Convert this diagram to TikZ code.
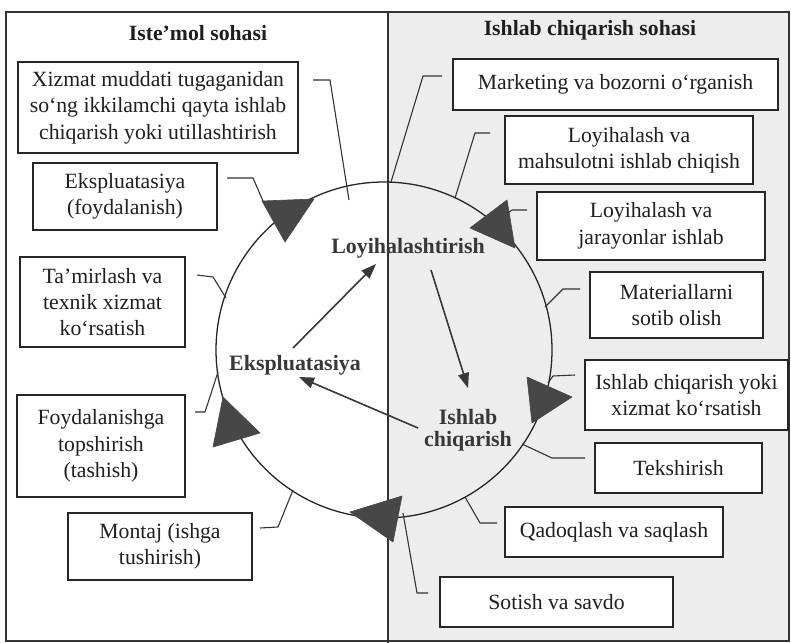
\documentclass[tikz,border=0pt]{standalone}
\usepackage{fontspec}
\setmainfont{Liberation Serif}
\usetikzlibrary{arrows.meta}
\begin{document}
\begin{tikzpicture}[x=1bp,y=-1bp,
  box/.style={draw=black!85, line width=1.4pt, fill=white, align=center, inner sep=1pt,
    font=\fontsize{21.8}{26.5}\selectfont, text=black!88},
  lead/.style={draw=black!80, line width=1.1pt},
  tri/.style={fill=black!72, draw=black!72, line width=0.6pt, line join=round},
  lbl/.style={font=\bfseries\fontsize{22}{24}\selectfont, text=black!78, align=center, inner sep=1pt},
  ttl/.style={font=\bfseries\fontsize{21.8}{24}\selectfont, text=black!88},
  flow/.style={line width=1.6pt, draw=black!78, -{Triangle[length=15bp,width=11bp]}}
]
\useasboundingbox (0,0) rectangle (791,643);
\fill[white] (0,0) rectangle (791,643);
\fill[black!7] (388,12) rectangle (789,641);
% frame and divider
\draw[line width=1.2pt, black!80] (6,12) rectangle (789,641);
\draw[line width=1.2pt, black!80] (388,12) -- (388,643);

% titles
\node[ttl] (t1) at (198,33) {Iste’mol sohasi};
\node[ttl] (t2) at (590,30) {Ishlab chiqarish sohasi};

% circle
\draw[line width=1.3pt, black!85] (384,350) circle[radius=168];

% triangles
\filldraw[tri] (262,201) -- (314,199) -- (285,242) -- cycle;
\filldraw[tri] (507,200) -- (470,228) -- (515,248) -- cycle;
\filldraw[tri] (527,377) -- (572,397) -- (532,423) -- cycle;
\filldraw[tri] (350,512) -- (402,496) -- (393,542) -- cycle;
\filldraw[tri] (223,397) -- (260,433) -- (213,447) -- cycle;

% boxes left
\node[box, minimum width=280bp, minimum height=91bp] (b1) at (158,107.5)
  {Xizmat muddati tugaganidan\\so‘ng ikkilamchi qayta ishlab\\chiqarish yoki utillashtirish};
\node[box, minimum width=184bp, minimum height=67bp] (b2) at (125,196.5)
  {Ekspluatasiya\\(foydalanish)};
\node[box, minimum width=165bp, minimum height=90bp] (b3) at (102.5,302)
  {Ta’mirlash va\\texnik xizmat\\ko‘rsatish};
\node[box, minimum width=168bp, minimum height=102bp] (b4) at (101,446)
  {Foydalanishga\\topshirish\\(tashish)};
\node[box, minimum width=184bp, minimum height=67bp] (b5) at (160,546.5)
  {Montaj (ishga\\tushirish)};
% boxes right
\node[box, minimum width=325bp, minimum height=51bp] (b6) at (615.5,84.5)
  {Marketing va bozorni o‘rganish};
\node[box, minimum width=248bp, minimum height=68bp] (b7) at (629,150)
  {Loyihalash va\\mahsulotni ishlab chiqish};
\node[box, minimum width=228bp, minimum height=68bp] (b8) at (651,226)
  {Loyihalash va\\jarayonlar ishlab};
\node[box, minimum width=173bp, minimum height=66bp] (b9) at (676.5,305)
  {Materiallarni\\sotib olish};
\node[box, minimum width=203bp, minimum height=70bp] (b10) at (686.5,395)
  {Ishlab chiqarish yoki\\xizmat ko‘rsatish};
\node[box, minimum width=167bp, minimum height=50bp] (b11) at (678.5,468)
  {Tekshirish};
\node[box, minimum width=218bp, minimum height=50bp] (b12) at (614,532)
  {Qadoqlash va saqlash};
\node[box, minimum width=233bp, minimum height=50bp] (b13) at (556.5,602)
  {Sotish va savdo};

% leader lines
\coordinate (l1a) at (313,80);  \coordinate (l1b) at (330,80);  \coordinate (l1c) at (349,200);
\coordinate (l2a) at (227,178); \coordinate (l2b) at (253,178); \coordinate (l2c) at (263,201);
\coordinate (l3a) at (197,275); \coordinate (l3b) at (213,277); \coordinate (l3c) at (226,298);
\coordinate (l4a) at (195,412); \coordinate (l4b) at (205,412); \coordinate (l4c) at (218,372);
\coordinate (l5a) at (260,528); \coordinate (l5b) at (278,527); \coordinate (l5c) at (293,490);
\coordinate (l6a) at (428,593); \coordinate (l6b) at (417,593); \coordinate (l6c) at (403,513);
\coordinate (l7a) at (497,523); \coordinate (l7b) at (480,523); \coordinate (l7c) at (465,497);
\coordinate (l8a) at (585,458); \coordinate (l8b) at (552,458); \coordinate (l8c) at (522,444);
\coordinate (l9a) at (575,375); \coordinate (l9b) at (553,376); \coordinate (l9c) at (548,383);
\coordinate (l10a) at (580,289); \coordinate (l10b) at (563,289); \coordinate (l10c) at (545,307);
\coordinate (l11a) at (527,210); \coordinate (l11b) at (512,210); \coordinate (l11c) at (508,213);
\coordinate (l12a) at (490,133); \coordinate (l12b) at (475,133); \coordinate (l12c) at (455,198);
\coordinate (l13a) at (442,76);  \coordinate (l13b) at (423,76);  \coordinate (l13c) at (391,182);
\foreach \i in {1,...,13} { \draw[lead] (l\i a) -- (l\i b) -- (l\i c); }

% inner labels
\node[lbl] (lo) at (408,248) {Loyihalashtirish};
\node[lbl] (ek) at (295,365) {Ekspluatasiya};
\node[lbl] (ic) at (468,430) {Ishlab\\[-2pt]chiqarish};

% inner arrows
\coordinate (a1s) at (293,348); \coordinate (a1e) at (376,264);
\coordinate (a2s) at (431,270); \coordinate (a2e) at (468,388);
\coordinate (a3s) at (418,428); \coordinate (a3e) at (299,377);
\draw[flow] (a1s) -- (a1e);
\draw[flow] (a2s) -- (a2e);
\draw[flow] (a3s) -- (a3e);
\end{tikzpicture}
\end{document}
